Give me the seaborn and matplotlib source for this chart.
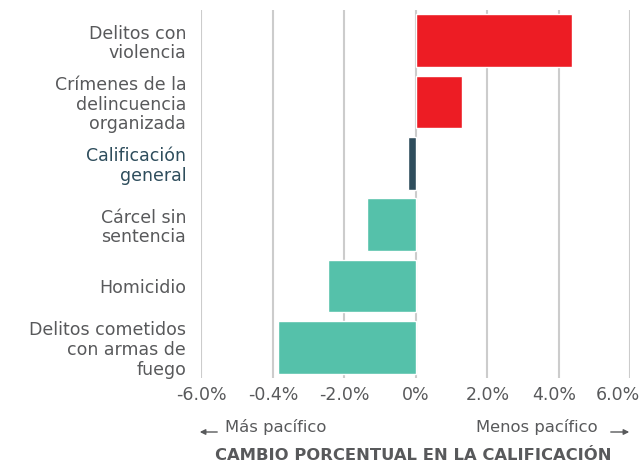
import matplotlib
matplotlib.use("Agg")
import matplotlib.pyplot as plt
import matplotlib.transforms as mtrans
import seaborn as sns

categories = ["Delitos con\nviolencia",
              "Crímenes de la\ndelincuencia\norganizada",
              "Calificación\ngeneral",
              "Cárcel sin\nsentencia",
              "Homicidio",
              "Delitos cometidos\ncon armas de\nfuego"]
values = [4.38, 1.30, -0.22, -1.37, -2.46, -3.87]
bar_colors = ["#ed1c24", "#ed1c24", "#2e4d5c", "#55c1aa", "#55c1aa", "#55c1aa"]
tick_vals = [-6, -4, -2, 0, 2, 4, 6]
tick_labels = ["-6.0%", "-0.4%", "-2.0%", "0%", "2.0%", "4.0%", "6.0%"]

sns.set_style("white")
plt.rcParams["font.family"] = ["DejaVu Sans"]
text_gray = "#58595b"

fig = plt.figure(figsize=(6.41, 4.63), dpi=100)
ax = fig.add_axes([0.3143, 0.1836, 0.669, 0.795])

sns.barplot(x=values, y=categories, hue=categories, palette=bar_colors,
            orient="h", width=0.86, legend=False, ax=ax, saturation=1)

ax.set_xlim(-6, 6)
ax.set_ylim(5.5, -0.5)
ax.set_xticks(tick_vals)
ax.set_xticklabels(tick_labels)
ax.grid(axis="x", color="#cccccc", linewidth=1.5)
ax.grid(axis="y", visible=False)
ax.set_axisbelow(True)
for s in ax.spines.values():
    s.set_visible(False)
ax.tick_params(axis="x", length=0, pad=6, labelsize=12.5, labelcolor=text_gray)
ax.tick_params(axis="y", length=0, pad=11, labelsize=12.5, labelcolor=text_gray)
for lab in ax.get_yticklabels():
    lab.set_linespacing(1.12)
ax.get_yticklabels()[2].set_color("#2e4d5c")
# last tick labels pulled in so they stay inside the figure
xl = ax.get_xticklabels()
xl[-1].set_transform(xl[-1].get_transform() +
                     mtrans.ScaledTranslation(-12 / 100, 0, fig.dpi_scale_trans))
xl[-2].set_transform(xl[-2].get_transform() +
                     mtrans.ScaledTranslation(-5 / 100, 0, fig.dpi_scale_trans))
ax.set_xlabel("")
ax.set_ylabel("")

# direction hints
fig.text(225 / 641, 1 - 427 / 463, "Más pacífico", ha="left", va="center",
         fontsize=11.8, color=text_gray)
fig.text(598 / 641, 1 - 427 / 463, "Menos pacífico", ha="right", va="center",
         fontsize=11.8, color=text_gray)
fig.add_artist(matplotlib.patches.FancyArrowPatch(
    (220 / 641, 1 - 432 / 463), (197 / 641, 1 - 432 / 463),
    transform=fig.transFigure, arrowstyle="-|>", mutation_scale=8,
    color=text_gray, lw=1))
fig.add_artist(matplotlib.patches.FancyArrowPatch(
    (608 / 641, 1 - 432 / 463), (632 / 641, 1 - 432 / 463),
    transform=fig.transFigure, arrowstyle="-|>", mutation_scale=8,
    color=text_gray, lw=1))
fig.text(413 / 641, 1 - 456 / 463, "CAMBIO PORCENTUAL EN LA CALIFICACIÓN",
         ha="center", va="center", fontsize=11.8, fontweight="bold",
         color=text_gray)

fig.savefig("out.png", dpi=100)
